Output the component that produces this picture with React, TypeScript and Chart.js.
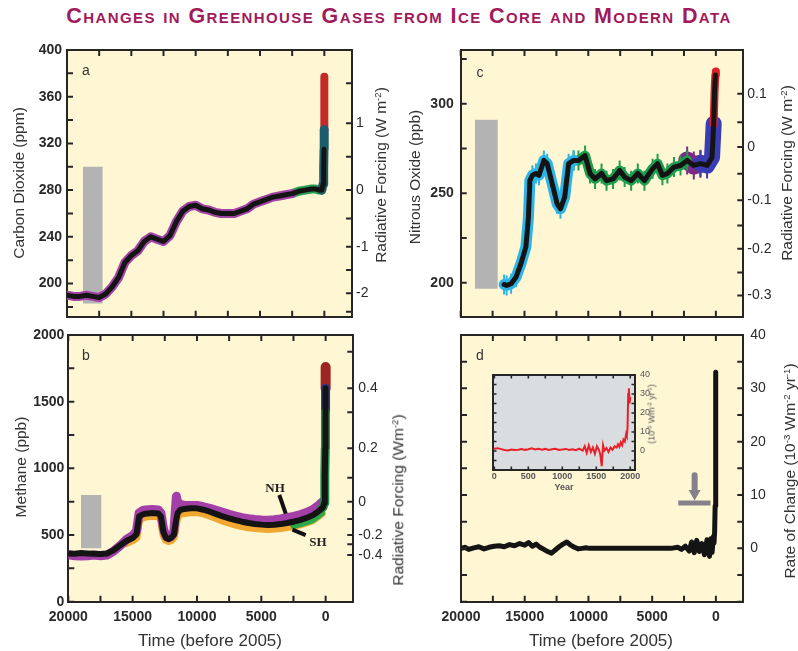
import React, { useEffect, useRef } from "react";
import { Chart, registerables } from "chart.js";
Chart.register(...registerables);

// ---------------- DATA ----------------
// Panel a: CO2 (ppm), years before 2005
const co2Years = [20000,19500,19000,18500,18000,17500,17000,16500,16000,15500,15000,14500,14000,13500,13000,12500,12000,11500,11000,10500,10000,9500,9000,8500,8000,7500,7000,6500,6000,5500,5000,4500,4000,3500,3000,2500,2000,1500,1000,700,400,200,100,50,25,10,0];
const co2Ppm = [190,189,189,190,189,188,191,197,205,218,224,228,236,240,238,236,241,253,262,266,267,264,263,261,260,260,260,262,264,268,270,272,274,275,276,277,279,280,281,281,280,280,285,298,315,332,377];
const co2BoxYears = [18770, 17220];
const co2BoxRange = [183, 300];
const co2LeftTicks = [180,200,220,240,260,280,300,320,340,360,380,400];
const co2LeftLabels = [200,240,280,320,360,400];
const co2RfTickPpm = [175.9,191.6,211.6,231.5,255.8,280,308.6,337.2,371.5];
const co2RfLabelPpm = [191.6,231.5,280,337.2];
const co2RfLabels = ["-2","-1","0","1"];

// Panel b: CH4 (ppb)
const ch4Years = [20000,19500,19000,18500,18000,17500,17000,16500,16000,15500,15000,14700,14500,14200,14000,13500,13000,12800,12600,12400,12200,12000,11800,11600,11500,11300,11000,10500,10000,9500,9000,8500,8000,7500,7000,6500,6000,5500,5000,4500,4000,3500,3000,2500,2000,1500,1000,600,300,200,120,80,50,30,15,5,0];
const ch4Ppb = [362,360,365,362,360,358,362,385,420,455,478,505,640,655,660,665,662,640,520,478,470,480,500,620,665,688,695,700,700,690,675,657,640,625,612,600,590,583,578,575,577,582,590,600,612,628,648,675,700,710,740,820,950,1150,1420,1600,1760];
const ch4NH = [352,345,342,345,350,345,350,378,418,465,495,530,665,685,688,692,688,665,545,490,480,490,520,790,745,730,722,722,722,712,700,685,670,655,642,630,622,616,612,610,614,620,630,640,652,668,690,718,745,null,null,null,null,null,null,null,null];
const ch4SH = [null,null,null,null,null,null,null,null,null,440,462,482,615,632,638,645,640,618,500,462,455,462,485,600,640,660,665,670,672,662,647,628,608,592,578,567,558,552,548,546,548,553,560,568,580,594,612,640,662,null,null,null,null,null,null,null,null];
const ch4BoxYears = [19017, 17415];
const ch4BoxRange = [400, 800];
const ch4LeftTicks = [0,250,500,750,1000,1250,1500,1750,2000];
const ch4LeftLabels = [0,500,1000,1500,2000];
const ch4RfTickPpb = [1875,1600,1420,1150,930,750,620,500,430,350];
const ch4RfLabelPpb = [1600,1150,750,500,350];
const ch4RfLabels = ["0.4","0.2","0","-0.2","-0.4"];
const nhPointerYears = [3600, 3100];
const nhPointerPpb = [800, 660];
const shPointerYears = [2580, 1550];
const shPointerPpb = [540, 500];

// Panel c: N2O (ppb)
const n2oYears = [16600,16400,16050,15670,15280,14890,14690,14580,14380,14100,13860,13480,13220,12830,12440,12180,11850,11540,11150,10770,10250,9860,9470,8960,8570,8060,7540,7150,6640,6120,5600,4960,4570,4190,3800,3280,2770,2250,1730,1210,690,300,170,100,40,0];
const n2oPpb = [199,198.5,199.4,203,210.6,220,236.6,257,260,261,260,268.3,266.5,255.3,244,241.3,247.8,266.5,268.3,268.3,271,261,258,261,257,258,262.7,259,257,261,257,263.7,266.5,260,261,264.6,265.5,268.3,265.5,266.5,265.5,270,288.8,307,316,318];
const n2oBoxYears = [18893, 17090];
const n2oBoxRange = [196.6, 291];
const n2oLeftTicks = [200,225,250,275,300,325];
const n2oLeftLabels = [200,250,300];
const n2oRfTickPpb = [192.9,205.7,219,232,246,260.9,275.8,289.7,305.6];
const n2oRfLabelPpb = [192.9,219,246,275.8,305.6];
const n2oRfLabels = ["-0.3","-0.2","-0.1","0","0.1"];

// Panel d: rate of change (1e-3 W m-2 yr-1)
const rateYears = [20000,19700,19400,19000,18600,18200,17800,17400,17000,16600,16200,15800,15400,15000,14700,14400,14100,13800,13500,13200,12900,12600,12300,12000,11700,11400,11100,10800,10500,10200,9900,9500,9000,8500,8000,7500,7000,6500,6000,5500,5000,4500,4000,3500,3000,2700,2400,2100,1900,1700,1500,1300,1100,900,700,500,400,300,200,150,100,60,40,20,10,5,0];
const rateValues = [0,0.2,-0.2,0.1,0.3,-0.1,0.2,0.4,0.5,0.3,0.7,0.5,0.9,0.6,1.1,0.4,0.8,0.2,-0.2,-0.6,-0.9,-0.3,0.3,0.8,1.2,0.6,0.2,-0.1,0,0.1,0,0,0,0,0,0,0,0,0,0,0,0,0,0,0.2,-0.2,0.4,-0.5,1.2,-0.8,1.5,-0.6,0.9,-1.2,1.6,-1.5,1.8,-0.8,2.2,1,3,8,15,25,32,30,33];
const rateTicks = [-10,-5,0,5,10,15,20,25,30,35,40];
const rateLabels = [0,10,20,30,40];
const arrowBarYears = [2950, 420];
const arrowBarLevel = 8.5;
const arrowYear = 1670;
const arrowShaft = [13.7, 11];
const arrowHeadLevel = 10.3;

// Inset: rate of change, years AD
const insetYears = [0,50,100,150,200,250,300,350,400,450,500,550,600,650,700,750,800,850,900,950,1000,1050,1100,1150,1200,1250,1300,1330,1360,1390,1420,1450,1480,1510,1540,1560,1580,1600,1620,1650,1680,1710,1740,1770,1800,1820,1840,1860,1880,1900,1920,1940,1950,1960,1970,1980,1990,2000];
const insetValues = [1.2,1.5,1,0.5,0.3,0.8,0.5,0.7,1,0.6,0.9,1.4,0.8,1.2,0.7,1.1,0.5,0.9,1.2,0.6,0.8,1.1,0.5,0.9,0.4,1.3,0.2,2.5,-1,3,-0.5,1.8,-1.5,2.5,0.5,-2,-8,3,0.2,1.5,-0.5,1.8,0.6,2.5,1.8,3.5,2.2,4.5,3,6,5,9,8,12,30,33,25,28];
const insetXTicks = [0,250,500,750,1000,1250,1500,1750,2000];
const insetXLabels = [0,500,1000,1500,2000];

const timeTicks = [0,2500,5000,7500,10000,12500,15000,17500,20000];
const timeLabels = [0,5000,10000,15000,20000];

// ---------------- STYLE ----------------
const FONT = "'Liberation Sans', Arial, Helvetica, sans-serif";
const AX = "#262626";
const CREAM = "#fff7d4";
const TXT = "#2a2a2a";
const X_MIN = -2150;
const X_MAX = 20000;

type P = { x: number; y: number | null };
function pts(xs: number[], ys: (number | null)[], from = Infinity, to = -Infinity): P[] {
  const out: P[] = [];
  xs.forEach((x, i) => { if (x <= from && x >= to) out.push({ x, y: ys[i] }); });
  return out;
}

const bgPlugin = {
  id: "bg",
  beforeDraw(chart: any, _a: any, opts: any) {
    const { ctx, chartArea } = chart;
    if (!chartArea) return;
    ctx.save();
    ctx.fillStyle = opts.color || CREAM;
    ctx.fillRect(chartArea.left, chartArea.top, chartArea.width, chartArea.height);
    ctx.restore();
  },
};

// inward tick marks on every side, placed by each scale
const innerTicksPlugin = {
  id: "innerTicks",
  afterDraw(chart: any, _a: any, opts: any) {
    const { ctx, chartArea: ca } = chart;
    const len = opts.len ?? 6;
    ctx.save();
    ctx.strokeStyle = AX;
    ctx.lineWidth = opts.width ?? 2;
    ctx.beginPath();
    Object.values(chart.scales).forEach((s: any) => {
      s.ticks.forEach((t: any) => {
        const p = s.getPixelForValue(t.value);
        if (s.position === "left") { ctx.moveTo(ca.left, p); ctx.lineTo(ca.left + len, p); }
        else if (s.position === "right") { ctx.moveTo(ca.right, p); ctx.lineTo(ca.right - len, p); }
        else if (s.position === "top") { ctx.moveTo(p, ca.top); ctx.lineTo(p, ca.top + len); }
        else { ctx.moveTo(p, ca.bottom); ctx.lineTo(p, ca.bottom - len); }
      });
    });
    ctx.stroke();
    ctx.restore();
  },
};

function mkAxis(o: {
  axis: "x" | "y"; position: string; min: number; max: number; reverse?: boolean; size: number;
  ticks: number[]; labels?: number[]; labelText?: string[]; pad?: number; font?: any; bw?: number; color?: string;
}) {
  const show = !!o.labels;
  return {
    type: "linear",
    axis: o.axis,
    position: o.position,
    min: o.min,
    max: o.max,
    reverse: !!o.reverse,
    afterFit: (s: any) => {
      if (o.axis === "x") s.height = o.size; else s.width = o.size;
      s.paddingTop = 0; s.paddingBottom = 0; s.paddingLeft = 0; s.paddingRight = 0;
    },
    afterBuildTicks: (s: any) => { s.ticks = o.ticks.map((v) => ({ value: v })); },
    ticks: {
      display: show,
      autoSkip: false,
      maxRotation: 0,
      minRotation: 0,
      padding: o.pad ?? 6,
      font: o.font,
      color: o.color ?? TXT,
      callback: (v: number) => {
        if (!o.labels) return "";
        const i = o.labels.indexOf(v);
        if (i < 0) return "";
        return o.labelText ? o.labelText[i] : String(v);
      },
    },
    grid: { drawOnChartArea: false, drawTicks: false, lineWidth: 2, color: AX },
    border: { display: true, color: AX, width: o.bw ?? 2 },
  };
}

const tickFontL = { family: FONT, size: 14, weight: "bold" };
const tickFontR = { family: FONT, size: 14, weight: "normal" };

function line(data: P[], color: string, width: number, order: number, extra: any = {}) {
  return { type: "line", data, borderColor: color, backgroundColor: color, borderWidth: width, pointRadius: 0, tension: 0, order, borderJoinStyle: "round", borderCapStyle: "round", spanGaps: false, ...extra };
}
function box(years: number[], range: number[]) {
  return [
    { type: "line", data: [{ x: years[0], y: range[1] }, { x: years[1], y: range[1] }], borderWidth: 0, pointRadius: 0, fill: "+1", backgroundColor: "#b3b3b3", order: 10 },
    { type: "line", data: [{ x: years[0], y: range[0] }, { x: years[1], y: range[0] }], borderWidth: 0, pointRadius: 0, fill: false, backgroundColor: "#b3b3b3", order: 10 },
  ];
}

function baseOptions(scales: any, bg = CREAM, tickLen = 6, tickWidth = 2) {
  return {
    responsive: false,
    animation: false,
    devicePixelRatio: 1,
    events: [],
    layout: { padding: 0, autoPadding: false },
    plugins: { legend: { display: false }, tooltip: { enabled: false }, bg: { color: bg }, innerTicks: { len: tickLen, width: tickWidth } },
    scales,
  };
}

function timeAxes(bottom: number, top: number, showLabels: boolean) {
  return {
    x: mkAxis({ axis: "x", position: "bottom", min: X_MIN, max: X_MAX, reverse: true, size: bottom, ticks: timeTicks, labels: showLabels ? timeLabels : undefined, pad: 7, font: tickFontL }),
    x2: mkAxis({ axis: "x", position: "top", min: X_MIN, max: X_MAX, reverse: true, size: top, ticks: timeTicks }),
  };
}

// ---------------- CONFIGS ----------------
function configA() {
  const yMin = 171.6, yMax = 400;
  return {
    type: "line",
    data: {
      datasets: [
        ...box(co2BoxYears, co2BoxRange),
        line(pts(co2Years, co2Ppm, 20000, 2500), "#a243a6", 9, 5),
        line(pts(co2Years, co2Ppm, 2500, 200), "#2c9c55", 9, 5),
        line(pts(co2Years, co2Ppm, 200, 10), "#1d5c6c", 9, 4),
        line(pts(co2Years, co2Ppm, 10, 0), "#c42a2a", 8, 4),
        line(pts(co2Years, co2Ppm, 20000, 25), "#141414", 5, 1, { pointRadius: 2.2, pointStyle: "rect", pointBackgroundColor: "#141414", pointBorderWidth: 0 }),
      ],
    },
    options: baseOptions({
      ...timeAxes(13.3, 10, false),
      y: mkAxis({ axis: "y", position: "left", min: yMin, max: yMax, size: 67, ticks: co2LeftTicks, labels: co2LeftLabels, pad: 5, font: tickFontL }),
      yR: mkAxis({ axis: "y", position: "right", min: yMin, max: yMax, size: 48, ticks: co2RfTickPpm, labels: co2RfLabelPpm, labelText: co2RfLabels, pad: 4, font: tickFontR }),
    }),
    plugins: [bgPlugin, innerTicksPlugin],
  };
}

function configB() {
  return {
    type: "line",
    data: {
      datasets: [
        ...box(ch4BoxYears, ch4BoxRange),
        line(pts(ch4Years, ch4NH, 20000, 200), "#a340a8", 9, 6),
        line(pts(ch4Years, ch4SH, 20000, 200), "#f0a830", 8, 6),
        line(pts(ch4Years, ch4SH, 2500, 300), "#2aa84a", 6, 5),
        line(pts(ch4Years, ch4Ppb, 300, 15), "#1f8f4a", 9, 4),
        line(pts(ch4Years, ch4Ppb, 15, 5), "#2a3a8c", 9, 4),
        line(pts(ch4Years, ch4Ppb, 5, 0), "#9e2424", 10, 4),
        line(pts(ch4Years, ch4Ppb, 20000, 5), "#141414", 6, 1, { pointRadius: 2.5, pointStyle: "rect", pointBackgroundColor: "#141414", pointBorderWidth: 0 }),
        line(pts(nhPointerYears, nhPointerPpb), "#111", 4, 0, { borderCapStyle: "butt" }),
        line(pts(shPointerYears, shPointerPpb), "#111", 4, 0, { borderCapStyle: "butt" }),
      ],
    },
    options: baseOptions({
      ...timeAxes(49.3, 15, true),
      y: mkAxis({ axis: "y", position: "left", min: 0, max: 2000, size: 68.3, ticks: ch4LeftTicks, labels: ch4LeftLabels, pad: 4, font: tickFontL }),
      yR: mkAxis({ axis: "y", position: "right", min: 0, max: 2000, size: 66.7, ticks: ch4RfTickPpb, labels: ch4RfLabelPpb, labelText: ch4RfLabels, pad: 5, font: tickFontR }),
    }),
    plugins: [bgPlugin, innerTicksPlugin],
  };
}

function configC() {
  const yMin = 181, yMax = 330;
  const err = (color: string, r: number) => ({ pointRadius: r, pointStyle: "line", rotation: 90, pointBorderColor: color, pointBorderWidth: 2 });
  return {
    type: "line",
    data: {
      datasets: [
        ...box(n2oBoxYears, n2oBoxRange),
        line(pts(n2oYears, n2oPpb, 16600, 11100), "#2cb4e6", 11, 5, err("#2cb4e6", 10)),
        line(pts(n2oYears, n2oPpb, 11200, 2250), "#1e9e4e", 10, 5, err("#1e9e4e", 10)),
        line(pts(n2oYears, n2oPpb, 2300, 800), "#7d2a86", 18, 5, err("#7d2a86", 14)),
        line(pts(n2oYears, n2oPpb, 1300, 170), "#3a3cb4", 16, 4, err("#3a3cb4", 13)),
        line(pts(n2oYears, n2oPpb, 170, 0), "#dc2026", 8, 3),
        line(pts(n2oYears, n2oPpb, 16600, 40), "#141414", 5, 1, { pointRadius: 2.2, pointStyle: "rect", pointBackgroundColor: "#141414", pointBorderWidth: 0 }),
      ],
    },
    options: baseOptions({
      ...timeAxes(13.3, 10, false),
      y: mkAxis({ axis: "y", position: "left", min: yMin, max: yMax, size: 60.7, ticks: n2oLeftTicks, labels: n2oLeftLabels, pad: 7, font: tickFontL }),
      yR: mkAxis({ axis: "y", position: "right", min: yMin, max: yMax, size: 54.7, ticks: n2oRfTickPpb, labels: n2oRfLabelPpb, labelText: n2oRfLabels, pad: 4, font: tickFontR }),
    }),
    plugins: [bgPlugin, innerTicksPlugin],
  };
}

function configD() {
  return {
    type: "line",
    data: {
      datasets: [
        line(pts(rateYears, rateValues), "#141414", 5, 2),
        line(pts(arrowBarYears, [arrowBarLevel, arrowBarLevel]), "#86808a", 5, 1, { borderCapStyle: "butt" }),
        line(pts([arrowYear, arrowYear], arrowShaft), "#86808a", 6, 1, { borderCapStyle: "butt" }),
        line(pts([arrowYear], [arrowHeadLevel]), "#86808a", 0, 0, { pointRadius: 7, pointStyle: "triangle", rotation: 180, pointBackgroundColor: "#86808a", pointBorderWidth: 0 }),
      ],
    },
    options: baseOptions({
      ...timeAxes(49.3, 15, true),
      y: mkAxis({ axis: "y", position: "left", min: -10, max: 40, size: 61, ticks: rateTicks }),
      yR: mkAxis({ axis: "y", position: "right", min: -10, max: 40, size: 54.7, ticks: rateTicks, labels: rateLabels, pad: 7, font: tickFontR }),
    }),
    plugins: [bgPlugin, innerTicksPlugin],
  };
}

function configInset() {
  const f = { family: FONT, size: 9, weight: "bold" };
  const common = { bw: 2, color: "#555" };
  return {
    type: "line",
    data: { datasets: [line(pts(insetYears, insetValues), "#e8202a", 2, 1, { borderJoinStyle: "miter" })] },
    options: baseOptions({
      x: mkAxis({ axis: "x", position: "bottom", min: -20, max: 2070, size: 30, ticks: insetXTicks, labels: insetXLabels, pad: 1, font: f, ...common }),
      x2: mkAxis({ axis: "x", position: "top", min: -20, max: 2070, size: 10, ticks: insetXTicks, ...common }),
      y: mkAxis({ axis: "y", position: "left", min: -10, max: 40, size: 23, ticks: rateTicks, ...common }),
      yR: mkAxis({ axis: "y", position: "right", min: -10, max: 40, size: 55, ticks: rateTicks, labels: rateLabels, pad: 5, font: { family: FONT, size: 9 }, ...common }),
    }, "#d9dde0", 3.5, 1.6),
    plugins: [bgPlugin, innerTicksPlugin],
  };
}

// ---------------- COMPONENTS ----------------
function ChartCanvas({ left, top, width, height, make }: { left: number; top: number; width: number; height: number; make: () => any }) {
  const ref = useRef<HTMLCanvasElement>(null);
  useEffect(() => {
    const c = new Chart(ref.current as HTMLCanvasElement, make());
    return () => c.destroy();
  }, []);
  return <canvas ref={ref} width={width} height={height} style={{ position: "absolute", left, top, width, height }} />;
}

function Txt({ x, y, rot, size = 15.5, weight = "normal", color = "#333", family = FONT, children }: any) {
  return (
    <div style={{ position: "absolute", left: x, top: y, transform: `translate(-50%,-50%)${rot ? " rotate(-90deg)" : ""}`, whiteSpace: "nowrap", fontFamily: family, fontSize: size, fontWeight: weight, color, lineHeight: 1 }}>
      {children}
    </div>
  );
}
const Sup = ({ children }: any) => <sup style={{ fontSize: "0.62em", verticalAlign: "0.55em", lineHeight: 0 }}>{children}</sup>;

export default function App() {
  return (
    <div style={{ position: "absolute", left: 0, top: 0, width: 798, height: 651, background: "#ffffff", overflow: "hidden" }}>
      <div style={{ position: "absolute", left: 0, top: 4, width: 798, textAlign: "center", fontFamily: FONT, fontWeight: "bold", fontVariant: "small-caps", fontSize: 21.5, color: "#a11a5c", letterSpacing: 1.4, lineHeight: "24px" }}>
        Changes in Greenhouse Gases from Ice Core and Modern Data
      </div>

      <ChartCanvas left={0} top={40} width={400} height={290} make={configA} />
      <ChartCanvas left={400} top={40} width={398} height={290} make={configC} />
      <ChartCanvas left={400} top={320} width={398} height={331} make={configD} />
      <ChartCanvas left={0} top={320} width={420} height={331} make={configB} />
      <ChartCanvas left={470} top={365} width={220} height={135} make={configInset} />

      <Txt x={86} y={70} size={14}>a</Txt>
      <Txt x={480} y={72} size={14}>c</Txt>
      <Txt x={86} y={355} size={14}>b</Txt>
      <Txt x={480} y={355} size={14}>d</Txt>

      <Txt x={19} y={183} rot>Carbon Dioxide (ppm)</Txt>
      <Txt x={381} y={175} rot>Radiative Forcing (W m<Sup>-2</Sup>)</Txt>
      <Txt x={415} y={177} rot>Nitrous Oxide (ppb)</Txt>
      <Txt x={787} y={173} rot>Radiative Forcing (W m<Sup>-2</Sup>)</Txt>
      <Txt x={21} y={467} rot>Methane (ppb)</Txt>
      <Txt x={398} y={500} rot>Radiative Forcing (Wm<Sup>-2</Sup>)</Txt>
      <Txt x={790} y={471} rot>Rate of Change (10<Sup>-3</Sup> Wm<Sup>-2</Sup> yr<Sup>-1</Sup>)</Txt>
      <Txt x={210} y={640} size={17}>Time (before 2005)</Txt>
      <Txt x={601} y={640} size={17}>Time (before 2005)</Txt>

      <Txt x={652} y={414} rot size={9} color="#555">(10<Sup>-3</Sup> Wm<Sup>-2</Sup> yr<Sup>-1</Sup>)</Txt>
      <Txt x={564} y={487} size={9} weight="bold" color="#555">Year</Txt>

      <Txt x={275} y={487} size={13} weight="bold" family="'Liberation Serif', 'Times New Roman', serif" color="#222">NH</Txt>
      <Txt x={318} y={541} size={13} weight="bold" family="'Liberation Serif', 'Times New Roman', serif" color="#222">SH</Txt>
    </div>
  );
}
